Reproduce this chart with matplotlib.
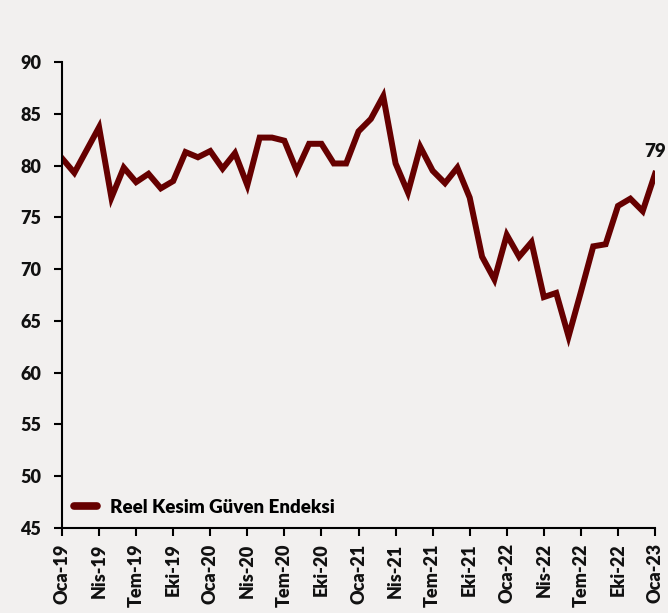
import matplotlib
matplotlib.use("Agg")
import matplotlib.pyplot as plt

months = ["Oca", "Şub", "Mar", "Nis", "May", "Haz", "Tem", "Ağu", "Eyl", "Eki", "Kas", "Ara"]
years = ["19", "20", "21", "22", "23"]
dates = [f"{m}-{y}" for y in years for m in months][:49]

values = [80.7, 79.3, 81.5, 83.7, 76.9, 79.8, 78.4, 79.2, 77.8, 78.5,
          81.3, 80.8, 81.4, 79.7, 81.2, 78.1, 82.7, 82.7, 82.4, 79.5,
          82.1, 82.1, 80.2, 80.2, 83.3, 84.5, 86.7, 80.2, 77.4, 81.8,
          79.5, 78.3, 79.8, 76.9, 71.2, 69.0, 73.3, 71.2, 72.6, 67.3,
          67.7, 63.5, 67.8, 72.2, 72.4, 76.1, 76.8, 75.6, 79.2]
series_name = "Reel Kesim Güven Endeksi"
last_label = "79"
yticks = [45, 50, 55, 60, 65, 70, 75, 80, 85, 90]

bg = "#F2F0EF"
line_color = "#660000"
plt.rcParams['font.family'] = ['Lato', 'DejaVu Sans']
plt.rcParams['font.weight'] = 'heavy'

fig = plt.figure(figsize=(6.68, 6.13), dpi=100, facecolor=bg)
ax = fig.add_axes([0.0928, 0.1386, 0.8878, 0.7603], facecolor=bg)

x = list(range(len(values)))
ax.plot(x, values, color=line_color, lw=4.3, solid_joinstyle='miter', label=series_name)
ax.annotate(last_label, (x[-1], values[-1]), xytext=(0, 10), textcoords='offset points',
            ha='center', va='bottom', fontsize=13.5, fontweight='heavy', color='#111111',
            annotation_clip=False)

ax.set_xlim(0, 48)
ax.set_ylim(45, 90)
ax.set_yticks(yticks)
ax.set_yticklabels([str(v) for v in yticks])
qt = list(range(0, 49, 3))
ax.set_xticks(qt)
ax.set_xticklabels([dates[i] for i in qt], rotation=90, va='top', ha='center')

for s in ['top', 'right']:
    ax.spines[s].set_visible(False)
for s in ['left', 'bottom']:
    ax.spines[s].set_color('black')
    ax.spines[s].set_linewidth(1.5)
ax.tick_params(axis='both', direction='out', length=6, width=1.5, color='black',
               labelsize=13, labelcolor='#111111')
ax.tick_params(axis='y', pad=9)
ax.tick_params(axis='x', pad=5)
for lab in ax.get_xticklabels() + ax.get_yticklabels():
    lab.set_fontweight('heavy')

leg = ax.legend(loc='lower left', bbox_to_anchor=(0.0, 0.0), frameon=False,
                handlelength=1.2, handletextpad=0.7, borderaxespad=0.25,
                prop={'size': 13.5, 'weight': 'heavy'})
for h in leg.get_lines():
    h.set_linewidth(5.5)
    h.set_solid_capstyle('round')

fig.savefig("out.png", dpi=100, facecolor=bg)
